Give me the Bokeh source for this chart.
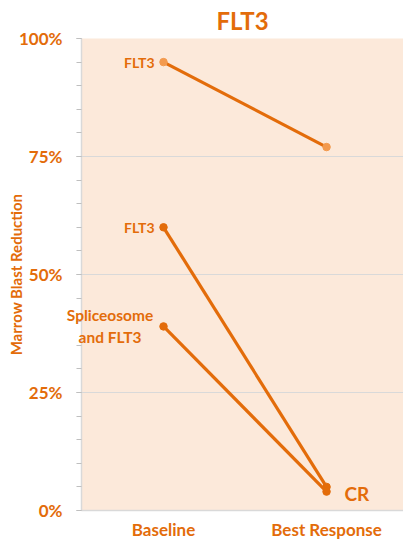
from bokeh.plotting import figure
from bokeh.embed import file_html
from bokeh.resources import INLINE
from bokeh.models import ColumnDataSource, FixedTicker, Range1d, Title
from bokeh.core.properties import value

categories = ["Baseline", "Best Response"]
x_pos = [1, 2]
series_a = [95, 77]   # FLT3 (top)
series_b = [60, 5]    # FLT3
series_c = [39, 4]    # Spliceosome and FLT3
y_ticks = [0, 25, 50, 75, 100]

ORANGE = "#E36C0A"
LIGHT = "#F39A4E"
BG = "#FCE9DA"
GRID = "#D9D9D9"
FONT = "Lato"

p = figure(width=403, height=542, output_backend="svg", toolbar_location=None,
           x_range=Range1d(0.497, 2.472), y_range=Range1d(0, 100),
           min_border_left=81, min_border_right=0, min_border_bottom=24, min_border_top=0)
p.title = Title(text="FLT3", align="center", text_font=FONT, text_font_size="24px",
                text_color=ORANGE, text_font_style="bold", standoff=7)
p.background_fill_color = BG
p.border_fill_color = "white"
p.outline_line_color = None

for ys, mcol in [(series_a, LIGHT), (series_b, ORANGE), (series_c, ORANGE)]:
    src = ColumnDataSource(dict(x=x_pos, y=ys))
    p.line("x", "y", source=src, line_color=ORANGE, line_width=3.2)
    p.scatter("x", "y", source=src, size=7.5, fill_color=mcol, line_color=mcol)

def add_text(x, y, text, size, align="center", x_offset=0, y_offset=0):
    p.text([x], [y], text=[text], x_offset=x_offset, y_offset=y_offset,
           text_align=align, text_baseline="middle", text_font=value(FONT),
           text_font_size=size, text_font_style="bold", text_color=ORANGE,
           level="overlay")

add_text(x_pos[0], series_a[0], "FLT3", "14px", align="right", x_offset=-9)
add_text(x_pos[0], series_b[0], "FLT3", "14px", align="right", x_offset=-9)
add_text(0.672, series_c[0], "Spliceosome", "15.5px", y_offset=-11)
add_text(0.672, series_c[0], "and FLT3", "15.5px", y_offset=11)
add_text(x_pos[1], 3.6, "CR", "19px", align="left", x_offset=18)

p.xgrid.grid_line_color = None
p.ygrid.grid_line_color = GRID
p.ygrid.ticker = FixedTicker(ticks=y_ticks)

xa = p.xaxis[0]
xa.ticker = FixedTicker(ticks=x_pos)
xa.major_label_overrides = {1: categories[0], 2: categories[1]}
xa.major_tick_line_color = None
xa.minor_tick_line_color = None
xa.axis_line_color = GRID
xa.axis_line_width = 1.5
xa.major_label_standoff = 2
xa.major_label_text_font = FONT
xa.major_label_text_font_size = "17px"
xa.major_label_text_font_style = "bold"
xa.major_label_text_color = ORANGE

ya = p.yaxis[0]
ya.ticker = FixedTicker(ticks=y_ticks, minor_ticks=list(range(0, 101, 5)))
ya.major_label_overrides = {t: f"{t}%" for t in y_ticks}
ya.axis_line_color = GRID
ya.axis_line_width = 1.5
ya.major_tick_line_color = "#BFBFBF"
ya.minor_tick_line_color = "#BFBFBF"
ya.major_tick_in = 0
ya.major_tick_out = 5
ya.minor_tick_in = 0
ya.minor_tick_out = 5
ya.major_label_standoff = 14
ya.major_label_text_font = FONT
ya.major_label_text_font_size = "17px"
ya.major_label_text_font_style = "bold"
ya.major_label_text_color = ORANGE
ya.axis_label = "Marrow Blast Reduction"
ya.axis_label_text_font = FONT
ya.axis_label_text_font_size = "15px"
ya.axis_label_text_font_style = "bold"
ya.axis_label_text_color = ORANGE
ya.axis_label_standoff = -9

open("out.html", "w").write(file_html(p, INLINE))
